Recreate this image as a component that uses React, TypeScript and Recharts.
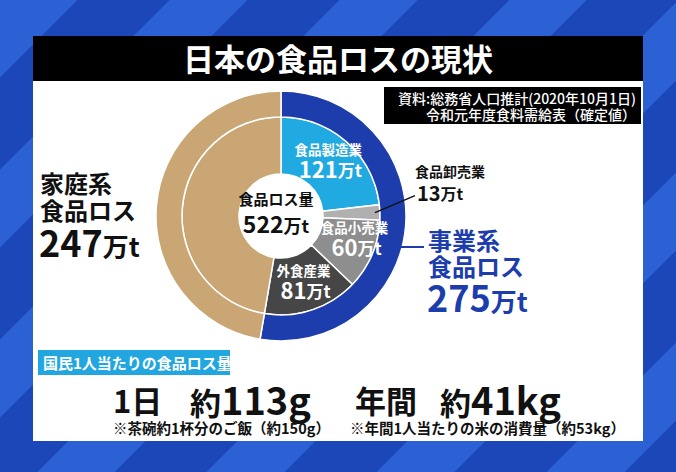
import { PieChart, Pie, Cell } from 'recharts'

// inner ring: business breakdown + household (万t)
const segmentNames = ['食品製造業', '食品卸売業', '食品小売業', '外食産業', '家庭系']
const segmentValues = [121, 13, 60, 81, 247]
const segmentColors = ['#21a9e2', '#b0b0b0', '#8e8e8e', '#464646', '#c9a673']

// outer ring: business vs household
const groupNames = ['事業系', '家庭系']
const groupValues = [275, 247]
const groupColors = ['#1c3dab', '#c9a673']

const totalLabel = '食品ロス量'
const totalValue = 522

const FONT = '"Noto Sans CJK JP", "Noto Sans", sans-serif'
const RADIAN = Math.PI / 180
const CX = 276
const CY = 211

const innerData = segmentNames.map((name, i) => ({ name, value: segmentValues[i] }))
const outerData = groupNames.map((name, i) => ({ name, value: groupValues[i] }))

// label radius / vertical nudge per slice, so the text sits in the wedge
const labelRadius = [71, 0, 80, 72]
const labelNudge = [0, 0, -6, 0]

function renderInnerLabel(props: any) {
  const { cx, cy, midAngle, outerRadius, index } = props
  const name = segmentNames[index]
  const value = segmentValues[index]
  if (index === 4) return null
  if (index === 1) {
    // small slice: leader line out to the right
    const sx = cx + (outerRadius - 5) * Math.cos(-midAngle * RADIAN)
    const sy = cy + (outerRadius - 5) * Math.sin(-midAngle * RADIAN)
    const ex = sx + 40
    const ey = sy - 17
    return (
      <g key="wholesale">
        <line x1={sx} y1={sy} x2={ex} y2={ey} stroke="#111" strokeWidth={1.5} />
        <text x={ex} y={ey - 22} fill="#111" fontSize={14} fontWeight={700} fontFamily={FONT} dominantBaseline="middle">
          {name}
        </text>
        <text x={ex + 2} y={ey} fill="#111" fontWeight={700} fontFamily={FONT} dominantBaseline="middle">
          <tspan fontSize={20}>{value}</tspan>
          <tspan fontSize={16}>万t</tspan>
        </text>
      </g>
    )
  }
  const r = labelRadius[index]
  const x = cx + r * Math.cos(-midAngle * RADIAN)
  const y = cy + r * Math.sin(-midAngle * RADIAN) + labelNudge[index]
  return (
    <g key={name}>
      <text x={x} y={y - 12} fill="#fff" fontSize={13.5} fontWeight={700} fontFamily={FONT} textAnchor="middle" dominantBaseline="middle">
        {name}
      </text>
      <text x={x + 2} y={y + 9} fill="#fff" fontWeight={700} fontFamily={FONT} textAnchor="middle" dominantBaseline="middle">
        <tspan fontSize={22}>{value}</tspan>
        <tspan fontSize={17}>万t</tspan>
      </text>
    </g>
  )
}

const abs = (left: number, top: number, extra: any = {}) => ({
  position: 'absolute' as const,
  left,
  top,
  fontFamily: FONT,
  fontWeight: 700,
  whiteSpace: 'nowrap' as const,
  lineHeight: 1,
  ...extra,
})

export default function App() {
  return (
    <div
      style={{
        position: 'absolute',
        left: 0,
        top: 0,
        width: 676,
        height: 472,
        overflow: 'hidden',
        background: 'repeating-linear-gradient(135deg, #2c61d6 0px, #2c61d6 55px, #1b47b8 55px, #1b47b8 120px)',
      }}
    >
      {/* panel */}
      <div style={{ position: 'absolute', left: 33, top: 81, width: 610, height: 360, background: '#fff' }} />
      <div style={{ position: 'absolute', left: 33, top: 36, width: 610, height: 45, background: '#000' }} />
      <div style={abs(33, 42, { width: 610, textAlign: 'center', color: '#fff', fontSize: 31 })}>日本の食品ロスの現状</div>

      {/* source box */}
      <div style={{ position: 'absolute', left: 384, top: 87, width: 257, height: 37, background: '#000' }} />
      <div style={abs(384, 90, { width: 252, textAlign: 'right', color: '#fff', fontSize: 14, lineHeight: '16px', fontWeight: 500 })}>
        資料:総務省人口推計(2020年10月1日)
        <br />
        令和元年度食料需給表（確定値）
      </div>

      <div style={{ position: 'absolute', left: 0, top: 0 }}>
        <PieChart width={676} height={472}>
          <Pie
            data={innerData}
            dataKey="value"
            nameKey="name"
            cx={CX}
            cy={CY}
            innerRadius={42}
            outerRadius={99}
            startAngle={90}
            endAngle={-270}
            stroke="#fff"
            strokeWidth={1.5}
            label={renderInnerLabel}
            labelLine={false}
            isAnimationActive={false}
          >
            {innerData.map((d, i) => (
              <Cell key={d.name} fill={segmentColors[i]} />
            ))}
          </Pie>
          <Pie
            data={outerData}
            dataKey="value"
            nameKey="name"
            cx={CX}
            cy={CY}
            innerRadius={99}
            outerRadius={125}
            startAngle={90}
            endAngle={-270}
            stroke="#fff"
            strokeWidth={1.5}
            isAnimationActive={false}
          >
            {outerData.map((d, i) => (
              <Cell key={d.name} fill={groupColors[i]} />
            ))}
          </Pie>
        </PieChart>
      </div>

      {/* centre */}
      <div style={abs(CX - 50, CY - 20, { width: 100, textAlign: 'center', color: '#111', fontSize: 15 })}>{totalLabel}</div>
      <div style={abs(CX - 50, CY + 1, { width: 100, textAlign: 'center', color: '#111' })}>
        <span style={{ fontSize: 23 }}>{totalValue}</span>
        <span style={{ fontSize: 18 }}>万t</span>
      </div>

      {/* household */}
      <div style={abs(40, 171, { color: '#111', fontSize: 24 })}>{groupNames[1]}</div>
      <div style={abs(40, 198, { color: '#111', fontSize: 24 })}>食品ロス</div>
      <div style={abs(39, 223, { color: '#111' })}>
        <span style={{ fontSize: 36 }}>{groupValues[1]}</span>
        <span style={{ fontSize: 26 }}>万t</span>
      </div>

      {/* business */}
      <div style={{ position: 'absolute', left: 396, top: 246, width: 28, height: 2, background: '#1c3dab' }} />
      <div style={abs(428, 228, { color: '#1c3dab', fontSize: 24 })}>{groupNames[0]}</div>
      <div style={abs(428, 254, { color: '#1c3dab', fontSize: 24 })}>食品ロス</div>
      <div style={abs(427, 278, { color: '#1c3dab' })}>
        <span style={{ fontSize: 36 }}>{groupValues[0]}</span>
        <span style={{ fontSize: 26 }}>万t</span>
      </div>

      {/* per-person */}
      <div style={{ position: 'absolute', left: 38, top: 350, width: 192, height: 25, background: '#22a6df' }} />
      <div style={abs(43, 355, { color: '#fff', fontSize: 15 })}>国民1人当たりの食品ロス量</div>

      <div style={abs(113, 384, { color: '#111', fontSize: 31 })}>1日</div>
      <div style={abs(190, 380, { color: '#111' })}>
        <span style={{ fontSize: 31 }}>約</span>
        <span style={{ fontSize: 38 }}>113g</span>
      </div>
      <div style={abs(355, 384, { color: '#111', fontSize: 31 })}>年間</div>
      <div style={abs(440, 380, { color: '#111' })}>
        <span style={{ fontSize: 31 }}>約</span>
        <span style={{ fontSize: 38 }}>41kg</span>
      </div>
      <div style={abs(113, 421, { color: '#111', fontSize: 14.5 })}>※茶碗約1杯分のご飯（約150g）</div>
      <div style={abs(350, 421, { color: '#111', fontSize: 14.5 })}>※年間1人当たりの米の消費量（約53kg）</div>
    </div>
  )
}
